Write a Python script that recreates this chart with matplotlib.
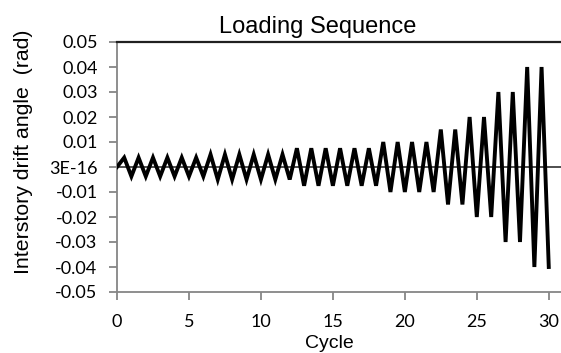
import matplotlib
matplotlib.use("Agg")
import matplotlib.pyplot as plt
import numpy as np

# Peak drift amplitude of each of the 30 cycles (rad)
amplitudes = [0.00375, 0.00375, 0.00375, 0.00375, 0.00375, 0.00375,
              0.005, 0.005, 0.005, 0.005, 0.005, 0.005,
              0.0075, 0.0075, 0.0075, 0.0075, 0.0075, 0.0075,
              0.01, 0.01, 0.01, 0.01,
              0.015, 0.015,
              0.02, 0.02,
              0.03, 0.03,
              0.04, 0.04]

y_ticks = [0.05, 0.04, 0.03, 0.02, 0.01, 0.0, -0.01, -0.02, -0.03, -0.04, -0.05]
y_labels = ["0.05", "0.04", "0.03", "0.02", "0.01", "3E-16",
            "-0.01", "-0.02", "-0.03", "-0.04", "-0.05"]
x_ticks = [0, 5, 10, 15, 20, 25, 30]

# each cycle: positive peak at half cycle, negative peak at full cycle
cycle = [0.0]
drift = [0.0]
for i, a in enumerate(amplitudes):
    cycle += [i + 0.5, i + 1.0]
    drift += [a, -a]

W, H = 561, 353
fig = plt.figure(figsize=(W / 100, H / 100), dpi=100)
ax = fig.add_axes([117 / W, 1 - 292 / H, (W - 117) / W, 250 / H])

grey = "#868686"
ax.axhline(0, color="#404040", lw=1.3, zorder=1)
ax.plot(cycle, drift, color="black", lw=2.8, solid_joinstyle="miter", zorder=3)

ax.set_xlim(0, 30.85)
ax.set_ylim(-0.05, 0.05)
ax.set_xticks(x_ticks)
ax.set_yticks(y_ticks)
ax.set_yticklabels(y_labels)

for s in ["left", "bottom"]:
    ax.spines[s].set_color(grey)
    ax.spines[s].set_linewidth(1.3)
ax.spines["right"].set_visible(False)
ax.spines["top"].set_color("#202020")
ax.spines["top"].set_linewidth(1.6)

ax.tick_params(axis="both", direction="out", length=6, width=1.3, color=grey,
               labelsize=13, labelcolor="black")
ax.tick_params(axis="x", pad=10)
ax.tick_params(axis="y", pad=8)
for lab in ax.get_xticklabels() + ax.get_yticklabels():
    lab.set_family("Lato")

fig.text(318 / W, 1 - 33 / H, "Loading Sequence", ha="center", va="baseline",
         fontsize=17, family="Liberation Sans")
fig.text(24 / W, 1 - 152 / H, "Interstory drift angle  (rad)", rotation=90,
         ha="center", va="center", fontsize=15.3, family="Liberation Sans")
fig.text(329 / W, 1 - 344 / H, "Cycle", ha="center", va="center",
         fontsize=14, family="Liberation Sans")

fig.savefig("out.png", dpi=100)
